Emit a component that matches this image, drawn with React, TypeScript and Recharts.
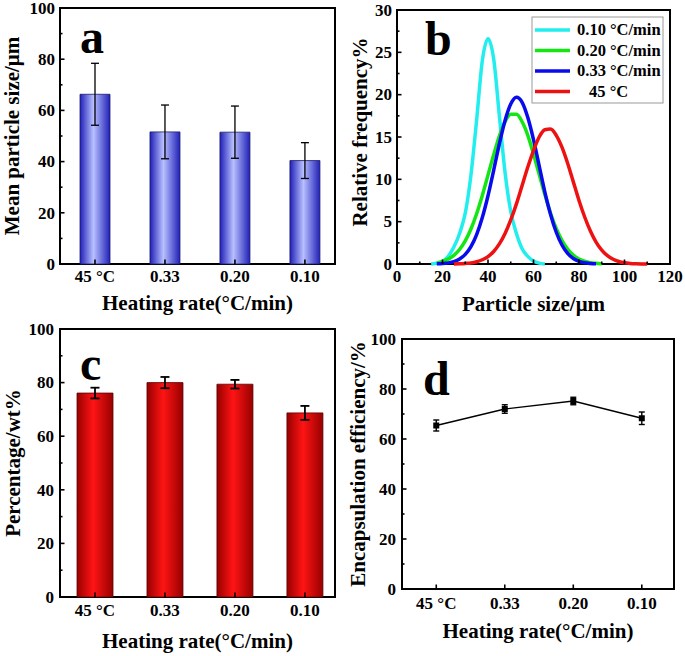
import React from "react"
import { BarChart, Bar, LineChart, Line, XAxis, YAxis, ErrorBar, ReferenceArea, Customized } from "recharts"

// heating-rate categories shared by panels a, c, d
const rateLabels = ["45 °C", "0.33", "0.20", "0.10"]

// a: mean particle size (µm) +- sd
const sizeMean = [66.3, 51.6, 51.5, 40.4]
const sizeErr = [12.1, 10.5, 10.2, 7.0]

// c: percentage (wt%) +- sd
const wtMean = [76.1, 80.0, 79.4, 68.7]
const wtErr = [2.0, 2.1, 1.6, 2.6]

// d: encapsulation efficiency (%) +- sd
const effMean = [65.4, 72.0, 75.2, 68.3]
const effErr = [2.2, 1.7, 1.5, 2.5]

// b: particle size distributions
const sizeAxis = [15, 17.5, 20, 22.5, 25, 27.5, 30, 32.5, 35, 37.5, 40, 42.5, 45, 47.5, 50, 52.5, 55, 57.5, 60, 62.5, 65, 67.5, 70, 72.5, 75, 77.5, 80, 82.5, 85, 87.5, 90, 92.5, 95, 97.5, 100, 102.5, 105, 107.5, 110]
const freq010 = [0, 0.1, 0.3, 0.9, 2.0, 3.6, 6.0, 10.5, 17.0, 24.0, 26.6, 24.2, 17.5, 10.8, 6.2, 3.6, 1.8, 0.9, 0.35, 0.1, 0, null, null, null, null, null, null, null, null, null, null, null, null, null, null, null, null, null, null]
const freq020 = [null, 0.1, 0.31, 0.58, 1.02, 1.71, 2.73, 4.13, 5.94, 8.1, 10.5, 12.9, 15.1, 16.8, 17.7, 17.7, 16.8, 15.2, 13.0, 10.6, 8.2, 6.0, 4.2, 2.78, 1.75, 1.04, 0.59, 0.32, 0.16, 0.08, 0.03, null, null, null, null, null, null, null, null]
const freq033 = [null, 0.02, 0.05, 0.13, 0.28, 0.58, 1.13, 2.05, 3.47, 5.48, 8.06, 11.07, 14.2, 16.96, 18.9, 19.7, 19.1, 17.3, 14.7, 11.6, 8.5, 5.85, 3.75, 2.24, 1.25, 0.65, 0.32, 0.14, 0.06, 0.02, null, null, null, null, null, null, null, null, null]
const freq45 = [null, null, null, null, 0.01, 0.03, 0.07, 0.13, 0.27, 0.5, 0.88, 1.48, 2.37, 3.6, 5.2, 7.1, 9.27, 11.45, 13.4, 15.0, 15.85, 15.94, 15.2, 13.8, 11.9, 9.7, 7.5, 5.55, 3.89, 2.59, 1.63, 0.98, 0.56, 0.3, 0.15, 0.07, 0.03, 0.01, 0]

const seriesNames = ["0.10 °C/min", "0.20 °C/min", "0.33 °C/min", "45 °C"]
const seriesKeys = ["f010", "f020", "f033", "f45"]
const seriesColors = ["#22eeee", "#14e614", "#0a0aee", "#ee1111"]

const pctTicks = [0, 10, 20, 30, 40, 50, 60, 70, 80, 90, 100]
const sizeTicks = [0, 10, 20, 30, 40, 50, 60, 70, 80, 90, 100, 110, 120]
const freqTicks = [0, 2.5, 5, 7.5, 10, 12.5, 15, 17.5, 20, 22.5, 25, 27.5, 30]

const sizeData = rateLabels.map((c, i) => ({ pos: i + 1, name: c, mean: sizeMean[i], err: sizeErr[i] }))
const wtData = rateLabels.map((c, i) => ({ pos: i + 1, name: c, mean: wtMean[i], err: wtErr[i] }))
const effData = rateLabels.map((c, i) => ({ pos: i + 1, name: c, mean: effMean[i], err: effErr[i] }))
const distData = sizeAxis.map((x, i) => ({ x, f010: freq010[i], f020: freq020[i], f033: freq033[i], f45: freq45[i] }))

const serif = { fontFamily: '"Liberation Serif", "Times New Roman", serif', fontWeight: 700 }
const TICK_FS = 17
const TITLE_FS = 21

const isMajor = (v: number, step: number) => Math.abs(v / step - Math.round(v / step)) < 1e-6

// ticks point inward, minor ones shorter; labels only on majors
function yTick(margin: number, step: number) {
    return (p: any) => {
        const v = p.payload.value
        const major = isMajor(v, step)
        const ax = p.x + margin
        return (
            <g>
                <line x1={ax} x2={ax + (major ? 4.5 : 2.5)} y1={p.y} y2={p.y} stroke="#000" strokeWidth={1.6} />
                {major && <text x={p.x} y={p.y} dy="0.34em" textAnchor="end" fontSize={TICK_FS} fill="#000" style={serif}>{v}</text>}
            </g>
        )
    }
}

function xTick(margin: number, step: number, fmt: (v: number) => string = v => String(v)) {
    return (p: any) => {
        const v = p.payload.value
        const major = isMajor(v, step)
        const ay = p.y - margin
        return (
            <g>
                <line x1={p.x} x2={p.x} y1={ay} y2={ay - (major ? 4.5 : 2.5)} stroke="#000" strokeWidth={1.6} />
                {major && <text x={p.x} y={p.y} dy="0.71em" textAnchor="middle" fontSize={TICK_FS} fill="#000" style={serif}>{fmt(v)}</text>}
            </g>
        )
    }
}

function Titles({ letter, lx, ly, xTitle, xtx, xty, yTitle, ytx, yty }: any) {
    return (
        <g style={serif} fill="#000">
            <text x={lx} y={ly} fontSize={48}>{letter}</text>
            <text x={xtx} y={xty} textAnchor="middle" fontSize={TITLE_FS}>{xTitle}</text>
            <text transform={`translate(${ytx},${yty}) rotate(-90)`} textAnchor="middle" dy="0.33em" fontSize={TITLE_FS}>{yTitle}</text>
        </g>
    )
}

function DistLegend() {
    const rowY = [30, 50.5, 71, 91.5]
    return (
        <g style={serif}>
            <rect x={190} y={17} width={131} height={86} fill="#fff" stroke="#999" strokeWidth={1} />
            {seriesNames.map((n, i) => (
                <g key={n}>
                    <line x1={193} x2={228} y1={rowY[i]} y2={rowY[i]} stroke={seriesColors[i]} strokeWidth={3.5} />
                    <text x={i === 3 ? 247 : 235} y={rowY[i]} dy="0.33em" fontSize={16.5} fill="#000">{n}</text>
                </g>
            ))}
        </g>
    )
}

const rateFmt = (v: number) => rateLabels[Math.round(v) - 1]

export default function App() {
    return (
        <div style={{ position: "absolute", left: 0, top: 0, width: 685, height: 656, background: "#fff" }}>
            {/* a */}
            <div style={{ position: "absolute", left: 0, top: 0 }}>
                <BarChart width={342} height={320} data={sizeData} margin={{ top: 8, right: 7, bottom: 0, left: 0 }}>
                    <defs>
                        <linearGradient id="gBlue" x1="0" y1="0" x2="1" y2="0">
                            <stop offset="0" stopColor="#2020b8" />
                            <stop offset="0.45" stopColor="#b8c0ff" />
                            <stop offset="1" stopColor="#2020b8" />
                        </linearGradient>
                    </defs>
                    <XAxis dataKey="pos" type="number" domain={[0.5, 4.43]} ticks={[1, 2, 3, 4]} interval={0} height={56}
                        tickSize={0} tickMargin={6} axisLine={false} tickLine={false} tick={xTick(6, 1, rateFmt)} />
                    <YAxis type="number" domain={[0, 100]} ticks={pctTicks} interval={0} width={60}
                        tickSize={0} tickMargin={5} axisLine={false} tickLine={false} tick={yTick(5, 20)} />
                    <Bar dataKey="mean" barSize={30} fill="url(#gBlue)" stroke="#1a1a6a" strokeWidth={0.8} isAnimationActive={false}>
                        <ErrorBar dataKey="err" direction="y" width={4} stroke="#000" strokeWidth={1.3} isAnimationActive={false} />
                    </Bar>
                    <ReferenceArea x1={0.5} x2={4.43} y1={0} y2={100} fill="none" stroke="#000" strokeWidth={2} />
                    <Customized component={<Titles letter="a" lx={80} ly={53} xTitle="Heating rate(°C/min)" xtx={197.5} xty={310}
                        yTitle="Mean particle size/μm" ytx={12.5} yty={136} />} />
                </BarChart>
            </div>

            {/* b */}
            <div style={{ position: "absolute", left: 342, top: 0 }}>
                <LineChart width={343} height={320} data={distData} margin={{ top: 10, right: 15, bottom: 0, left: 0 }}>
                    <XAxis dataKey="x" type="number" domain={[0, 120]} ticks={sizeTicks} interval={0} height={56}
                        tickSize={0} tickMargin={6} axisLine={false} tickLine={false} tick={xTick(6, 20)} />
                    <YAxis type="number" domain={[0, 30]} ticks={freqTicks} interval={0} width={55}
                        tickSize={0} tickMargin={5} axisLine={false} tickLine={false} tick={yTick(5, 5)} />
                    {seriesKeys.map((k, i) => (
                        <Line key={k} dataKey={k} type="monotone" stroke={seriesColors[i]} strokeWidth={3.5}
                            dot={false} connectNulls={false} isAnimationActive={false} />
                    ))}
                    <ReferenceArea x1={0} x2={120} y1={0} y2={30} fill="none" stroke="#000" strokeWidth={2} />
                    <Customized component={<Titles letter="b" lx={83} ly={55} xTitle="Particle size/μm" xtx={191.5} xty={311}
                        yTitle="Relative frequency%" ytx={18} yty={132} />} />
                    <Customized component={<DistLegend />} />
                </LineChart>
            </div>

            {/* c */}
            <div style={{ position: "absolute", left: 0, top: 320 }}>
                <BarChart width={342} height={336} data={wtData} margin={{ top: 9, right: 7, bottom: 0, left: 0 }}>
                    <defs>
                        <linearGradient id="gRed" x1="0" y1="0" x2="1" y2="0">
                            <stop offset="0" stopColor="#980000" />
                            <stop offset="0.45" stopColor="#ff1414" />
                            <stop offset="1" stopColor="#980000" />
                        </linearGradient>
                    </defs>
                    <XAxis dataKey="pos" type="number" domain={[0.5, 4.43]} ticks={[1, 2, 3, 4]} interval={0} height={59}
                        tickSize={0} tickMargin={7} axisLine={false} tickLine={false} tick={xTick(7, 1, rateFmt)} />
                    <YAxis type="number" domain={[0, 100]} ticks={pctTicks} interval={0} width={60}
                        tickSize={0} tickMargin={6} axisLine={false} tickLine={false} tick={yTick(6, 20)} />
                    <Bar dataKey="mean" barSize={36} fill="url(#gRed)" stroke="#5a0000" strokeWidth={0.8} isAnimationActive={false}>
                        <ErrorBar dataKey="err" direction="y" width={4.5} stroke="#000" strokeWidth={1.8} isAnimationActive={false} />
                    </Bar>
                    <ReferenceArea x1={0.5} x2={4.43} y1={0} y2={100} fill="none" stroke="#000" strokeWidth={2} />
                    <Customized component={<Titles letter="c" lx={80} ly={60} xTitle="Heating rate(°C/min)" xtx={197.5} xty={328}
                        yTitle="Percentage/wt%" ytx={13} yty={143} />} />
                </BarChart>
            </div>

            {/* d */}
            <div style={{ position: "absolute", left: 342, top: 320 }}>
                <LineChart width={343} height={336} data={effData} margin={{ top: 19, right: 11, bottom: 0, left: 0 }}>
                    <XAxis dataKey="pos" type="number" domain={[0.5, 4.47]} ticks={[1, 2, 3, 4]} interval={0} height={67}
                        tickSize={0} tickMargin={8} axisLine={false} tickLine={false} tick={xTick(8, 1, rateFmt)} />
                    <YAxis type="number" domain={[0, 100]} ticks={pctTicks} interval={0} width={60}
                        tickSize={0} tickMargin={6} axisLine={false} tickLine={false} tick={yTick(6, 20)} />
                    <Line dataKey="mean" type="linear" stroke="#000" strokeWidth={1.3} isAnimationActive={false}
                        dot={(p: any) => <rect key={p.index} x={p.cx - 3} y={p.cy - 3} width={6} height={6} fill="#000" />}>
                        <ErrorBar dataKey="err" direction="y" width={3} stroke="#000" strokeWidth={1.4} isAnimationActive={false} />
                    </Line>
                    <ReferenceArea x1={0.5} x2={4.47} y1={0} y2={100} fill="none" stroke="#000" strokeWidth={2} />
                    <Customized component={<Titles letter="d" lx={81} ly={75} xTitle="Heating rate(°C/min)" xtx={196} xty={318}
                        yTitle="Encapsulation efficiency/%" ytx={16} yty={144} />} />
                </LineChart>
            </div>
        </div>
    )
}
